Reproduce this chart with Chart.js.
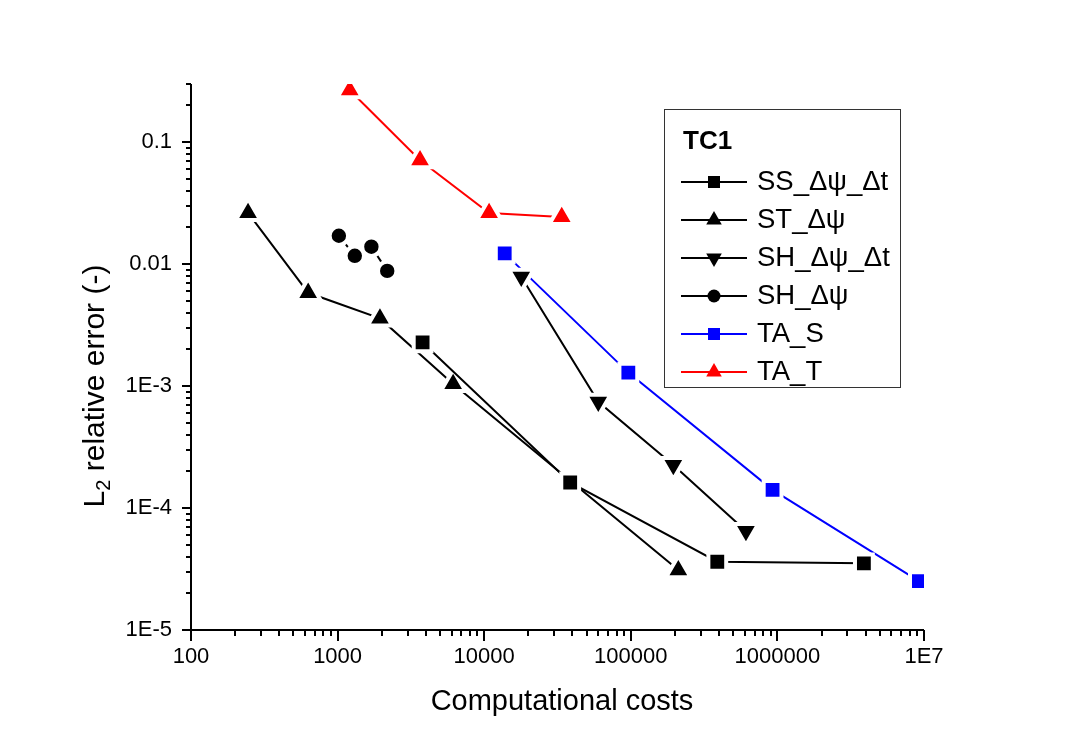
<!DOCTYPE html>
<html>
<head>
<meta charset="utf-8">
<script src="https://cdn.jsdelivr.net/npm/chart.js@4.4.0/dist/chart.umd.min.js"></script>
<style>
  html, body { margin: 0; padding: 0; background: #fff; }
  canvas { display: block; }
</style>
</head>
<body>
<canvas id="chart" width="1077" height="754"></canvas>
<script>
// axis ticks
const xTicks = [100, 1000, 10000, 100000, 1000000, 1e7];
const xTickLabels = ['100', '1000', '10000', '100000', '1000000', '1E7'];
const yTicks = [1e-5, 1e-4, 1e-3, 0.01, 0.1];
const yTickLabels = ['1E-5', '1E-4', '1E-3', '0.01', '0.1'];

// series (computational cost, L2 relative error)
const ssCost = [3800, 38600, 389000, 3890000];
const ssErr = [0.00228, 1.62e-4, 3.63e-5, 3.52e-5];
const stCost = [245, 630, 1945, 6140, 211000];
const stErr = [0.0263, 0.00582, 0.00359, 0.00104, 3.1e-5];
const shtCost = [17900, 60000, 195000, 610000];
const shtErr = [0.00787, 7.43e-4, 2.25e-4, 6.47e-5];
const shCost = [1020, 1310, 1700, 2180];
const shErr = [0.0171, 0.0117, 0.0139, 0.0088];
const taSCost = [13800, 96200, 927000, 9230000];
const taSErr = [0.01225, 0.00129, 1.41e-4, 2.52e-5];
const taTCost = [1210, 3650, 10800, 33800];
const taTErr = [0.267, 0.0711, 0.0263, 0.0244];

const FONT = '"Liberation Sans", Arial, sans-serif';

const series = [
  { label: 'SS_Δψ_Δt', x: ssCost, y: ssErr, color: '#000000', style: 'rect', rot: 0 },
  { label: 'ST_Δψ', x: stCost, y: stErr, color: '#000000', style: 'triangle', rot: 0 },
  { label: 'SH_Δψ_Δt', x: shtCost, y: shtErr, color: '#000000', style: 'triangle', rot: 180 },
  { label: 'SH_Δψ', x: shCost, y: shErr, color: '#000000', style: 'circle', rot: 0 },
  { label: 'TA_S', x: taSCost, y: taSErr, color: '#0000ff', style: 'rect', rot: 0 },
  { label: 'TA_T', x: taTCost, y: taTErr, color: '#ff0000', style: 'triangle', rot: 0 },
];

const radius = { rect: 12.6, triangle: 14.2, circle: 9.2 };

const datasets = series.map((s) => ({
  label: s.label,
  data: s.x.map((v, i) => ({ x: v, y: s.y[i] })),
  borderColor: s.color,
  backgroundColor: s.color,
  borderWidth: 2,
  tension: 0,
  fill: false,
  pointStyle: s.style,
  rotation: s.rot,
  pointRadius: radius[s.style],
  pointBackgroundColor: s.color,
  pointBorderColor: '#ffffff',
  pointBorderWidth: 4,
  // the two circle pairs are not joined in the original
  segment: s.label === 'SH_Δψ'
    ? { borderColor: (ctx) => (ctx.p0DataIndex === 1 ? 'rgba(0,0,0,0)' : s.color) }
    : undefined,
}));

function minorOf(majors, max) {
  const out = [];
  majors.forEach((m) => {
    for (let k = 2; k <= 9; k++) {
      if (m * k <= max * 1.0001) out.push(m * k);
    }
  });
  return out;
}

function marker(ctx, style, rot, x, y, color) {
  ctx.save();
  ctx.fillStyle = color;
  ctx.beginPath();
  if (style === 'rect') {
    ctx.rect(x - 6, y - 6, 12, 12);
  } else if (style === 'circle') {
    ctx.arc(x, y, 6.5, 0, Math.PI * 2);
  } else {
    const r = 9;
    const dir = rot === 180 ? -1 : 1;
    ctx.moveTo(x, y - dir * r);
    ctx.lineTo(x + r * 0.866, y + dir * r / 2);
    ctx.lineTo(x - r * 0.866, y + dir * r / 2);
    ctx.closePath();
  }
  ctx.fill();
  ctx.restore();
}

const decorations = {
  id: 'decorations',
  afterDraw(chart) {
    const ctx = chart.ctx;
    const xs = chart.scales.x;
    const ys = chart.scales.y;
    const a = chart.chartArea;
    ctx.save();
    ctx.strokeStyle = '#000';
    ctx.lineWidth = 2;

    // axis lines
    ctx.beginPath();
    ctx.moveTo(a.left, a.top);
    ctx.lineTo(a.left, a.bottom);
    ctx.lineTo(a.right, a.bottom);
    ctx.stroke();

    // tick marks
    ctx.beginPath();
    xTicks.forEach((v) => {
      const px = Math.round(xs.getPixelForValue(v));
      ctx.moveTo(px, a.bottom); ctx.lineTo(px, a.bottom + 11);
    });
    minorOf(xTicks, 1e7).forEach((v) => {
      const px = Math.round(xs.getPixelForValue(v));
      ctx.moveTo(px, a.bottom); ctx.lineTo(px, a.bottom + 6);
    });
    yTicks.forEach((v) => {
      const py = Math.round(ys.getPixelForValue(v));
      ctx.moveTo(a.left, py); ctx.lineTo(a.left - 9, py);
    });
    minorOf(yTicks, 0.3).forEach((v) => {
      const py = Math.round(ys.getPixelForValue(v));
      ctx.moveTo(a.left, py); ctx.lineTo(a.left - 5, py);
    });
    ctx.stroke();

    // axis titles
    ctx.fillStyle = '#000';
    ctx.font = '29px ' + FONT;
    ctx.textAlign = 'center';
    ctx.textBaseline = 'middle';
    ctx.fillText('Computational costs', 562, 702);

    ctx.save();
    ctx.translate(96, 386);
    ctx.rotate(-Math.PI / 2);
    ctx.textAlign = 'left';
    ctx.textBaseline = 'middle';
    const big = '30px ' + FONT;
    const small = '20px ' + FONT;
    ctx.font = big;
    const wL = ctx.measureText('L').width;
    const wRest = ctx.measureText(' relative error (-)').width;
    ctx.font = small;
    const w2 = ctx.measureText('2').width;
    const total = wL + w2 + wRest;
    let cx = -total / 2;
    ctx.font = big;
    ctx.fillText('L', cx, 0);
    cx += wL;
    ctx.font = small;
    ctx.fillText('2', cx, 8);
    cx += w2;
    ctx.font = big;
    ctx.fillText(' relative error (-)', cx, 0);
    ctx.restore();

    // legend
    ctx.lineWidth = 1;
    ctx.strokeStyle = '#333';
    ctx.strokeRect(664.5, 109.5, 236, 278);
    ctx.textAlign = 'left';
    ctx.textBaseline = 'middle';
    ctx.font = 'bold 26px ' + FONT;
    ctx.fillText('TC1', 683, 142);
    ctx.font = '27.5px ' + FONT;
    series.forEach((s, i) => {
      const ry = 182 + i * 38;
      ctx.strokeStyle = s.color;
      ctx.lineWidth = 2;
      ctx.beginPath();
      ctx.moveTo(681, ry); ctx.lineTo(747, ry);
      ctx.stroke();
      marker(ctx, s.style, s.rot, 714, ry, s.color);
      ctx.fillStyle = '#000';
      ctx.fillText(s.label, 757, ry);
    });
    ctx.restore();
  },
};

new Chart(document.getElementById('chart'), {
  type: 'line',
  data: { datasets },
  options: {
    responsive: false,
    animation: false,
    devicePixelRatio: 1,
    layout: { padding: { left: 0, top: 84, right: 153, bottom: 0 } },
    plugins: { legend: { display: false }, tooltip: { enabled: false } },
    scales: {
      x: {
        type: 'logarithmic',
        position: 'bottom',
        min: 100,
        max: 1e7,
        afterBuildTicks: (s) => { s.ticks = xTicks.map((v) => ({ value: v })); },
        afterFit: (s) => { s.height = 124; },
        grid: { display: false, drawTicks: false },
        border: { display: false },
        ticks: {
          autoSkip: false,
          maxRotation: 0,
          padding: 14,
          color: '#000',
          font: { family: FONT, size: 22 },
          callback: (v, i) => xTickLabels[i],
        },
      },
      y: {
        type: 'logarithmic',
        position: 'left',
        min: 1e-5,
        max: 0.3,
        afterBuildTicks: (s) => { s.ticks = yTicks.map((v) => ({ value: v })); },
        afterFit: (s) => { s.width = 191; },
        grid: { display: false, drawTicks: false },
        border: { display: false },
        ticks: {
          autoSkip: false,
          padding: 19,
          color: '#000',
          font: { family: FONT, size: 22 },
          callback: (v, i) => yTickLabels[i],
        },
      },
    },
  },
  plugins: [decorations],
});
</script>
</body>
</html>
